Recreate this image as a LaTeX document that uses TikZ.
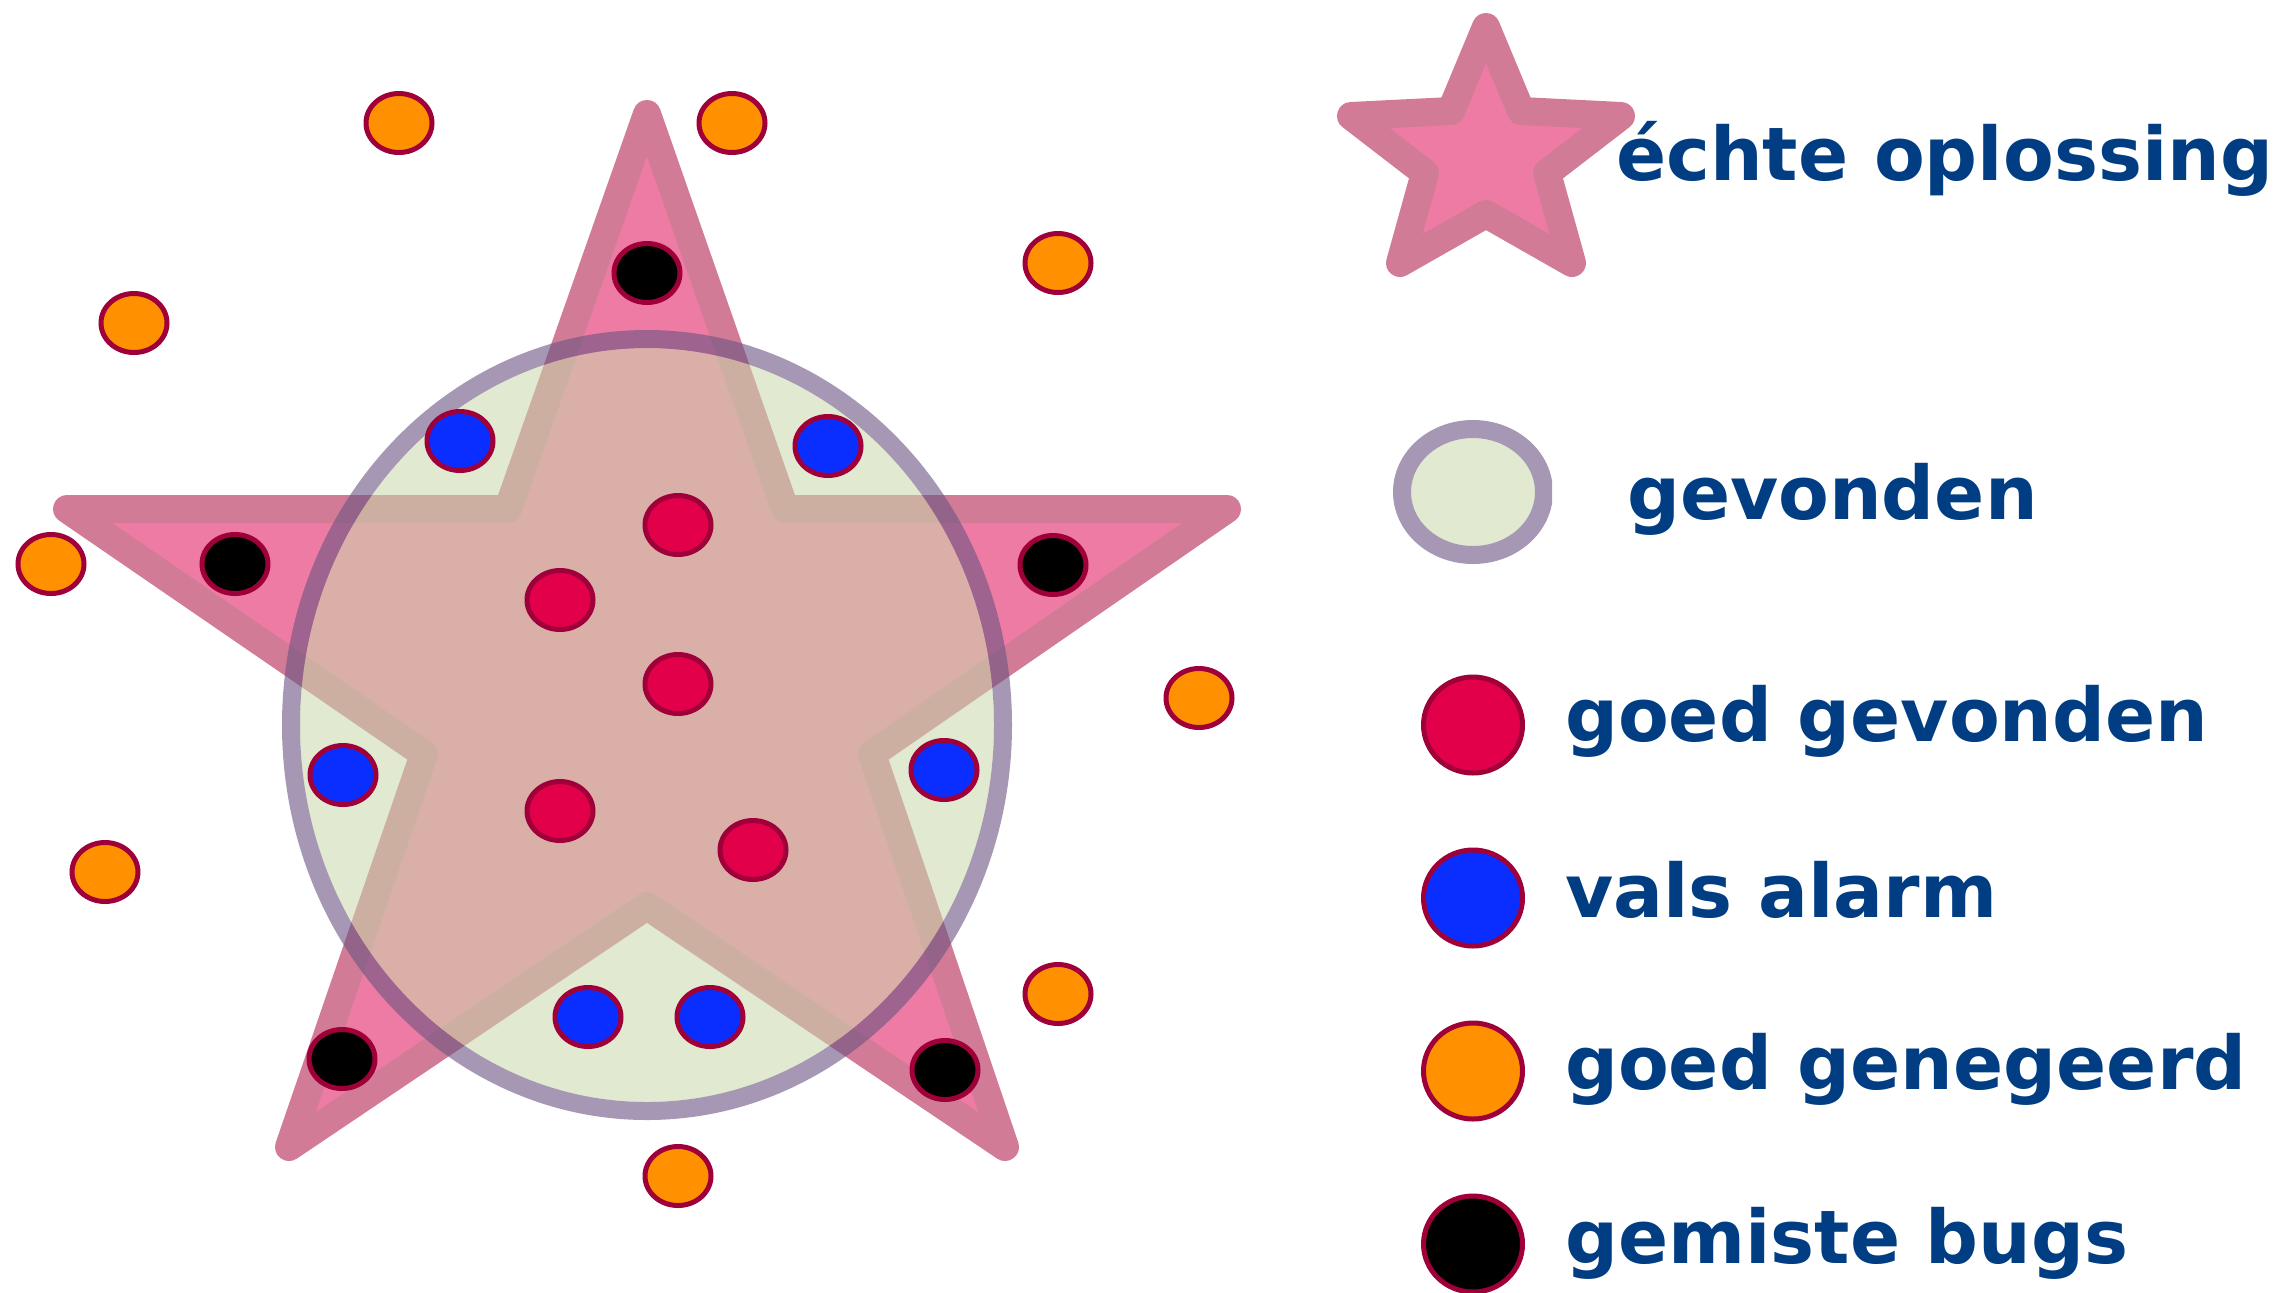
\documentclass[tikz,border=0pt]{standalone}
\usepackage{fontspec}
\setmainfont{DejaVu Sans}
\usetikzlibrary{shapes.geometric}
\definecolor{starfill}{RGB}{238,123,163}
\definecolor{starline}{RGB}{210,123,151}
\definecolor{ellfill}{RGB}{202,216,172}
\definecolor{elline}{RGB}{107,83,130}
\definecolor{lgfill}{RGB}{225,233,208}
\definecolor{lgline}{RGB}{166,152,180}
\definecolor{dotedge}{RGB}{160,0,58}
\definecolor{dotred}{RGB}{226,0,75}
\definecolor{dotblue}{RGB}{10,46,255}
\definecolor{dotorange}{RGB}{255,145,0}
\definecolor{textblue}{RGB}{0,61,130}
\tikzset{
  dot/.style={ellipse, draw=dotedge, line width=2.5pt, minimum width=33pt, minimum height=29.5pt, inner sep=0pt, outer sep=0pt},
  reddot/.style={dot, fill=dotred},
  bluedot/.style={dot, fill=dotblue},
  orangedot/.style={dot, fill=dotorange},
  blackdot/.style={dot, fill=black},
  bigdot/.style={ellipse, draw=dotedge, line width=2.5pt, minimum width=49.5pt, minimum height=48pt, inner sep=0pt, outer sep=0pt},
  starshape/.style={draw=starline, fill=starfill, line width=14pt, line join=round},
  legtext/.style={anchor=base west, inner sep=0pt, outer sep=0pt, text=textblue, font=\bfseries\fontsize{37pt}{44pt}\selectfont}
}
\begin{document}
\begin{tikzpicture}[x=0.5pt, y=-0.5pt]
\useasboundingbox (0,0) rectangle (2291,1292);
% big star
\draw[starshape] (647,114) -- (785,509) -- (1227,509) -- (872,754) -- (1005,1147) -- (647,906) -- (289,1147) -- (424,754) -- (67,509) -- (508,509) -- cycle;
% found ellipse (translucent)
\fill[ellfill, fill opacity=0.57] (647,725) ellipse [x radius=173.5pt, y radius=188.5pt];
\draw[elline, draw opacity=0.6, line width=9pt] (647,725) ellipse [x radius=178pt, y radius=193pt];
% dots: orange
\node[orangedot] (o1) at (399,123) {};
\node[orangedot] (o2) at (732,123) {};
\node[orangedot] (o3) at (1058,263) {};
\node[orangedot] (o4) at (134,323) {};
\node[orangedot] (o5) at (51,564) {};
\node[orangedot] (o6) at (1199,698) {};
\node[orangedot] (o7) at (105,872) {};
\node[orangedot] (o8) at (1058,994) {};
\node[orangedot] (o9) at (678,1176) {};
% black
\node[blackdot] (k1) at (647,273) {};
\node[blackdot] (k2) at (235,564) {};
\node[blackdot] (k3) at (1053,565) {};
\node[blackdot] (k4) at (342,1059) {};
\node[blackdot] (k5) at (945,1070) {};
% blue
\node[bluedot] (b1) at (460,441) {};
\node[bluedot] (b2) at (828,446) {};
\node[bluedot] (b3) at (343,775) {};
\node[bluedot] (b4) at (944,770) {};
\node[bluedot] (b5) at (588,1017) {};
\node[bluedot] (b6) at (710,1017) {};
% red
\node[reddot] (r1) at (678,525) {};
\node[reddot] (r2) at (560,600) {};
\node[reddot] (r3) at (678,684) {};
\node[reddot] (r4) at (560,811) {};
\node[reddot] (r5) at (753,850) {};
% legend star
\draw[starshape] (1486,27) -- (1521,111) -- (1621,116) -- (1547,173) -- (1572,263) -- (1486,214) -- (1400,263) -- (1425,173) -- (1351,116) -- (1451,111) -- cycle;
\node[legtext] (t1) at (1616,180) {échte oplossing};
% legend ellipse
\begin{scope}
\clip (0,0) rectangle (1552,1292);
\draw[draw=lgline, fill=lgfill, line width=9pt] (1473,492) ellipse [x radius=35.5pt, y radius=31.5pt];
\end{scope}
\node[legtext] (t2) at (1627,519) {gevonden};
% legend dots
\node[bigdot, fill=dotred] (l1) at (1473,725) {};
\node[legtext] (t3) at (1565,741) {goed gevonden};
\node[bigdot, fill=dotblue] (l2) at (1473,898) {};
\node[legtext] (t4) at (1565,917) {vals alarm};
\node[bigdot, fill=dotorange] (l3) at (1473,1071) {};
\node[legtext] (t5) at (1565,1089) {goed genegeerd};
\node[bigdot, fill=black] (l4) at (1473,1244) {};
\node[legtext] (t6) at (1565,1263) {gemiste bugs};
\end{tikzpicture}
\end{document}
